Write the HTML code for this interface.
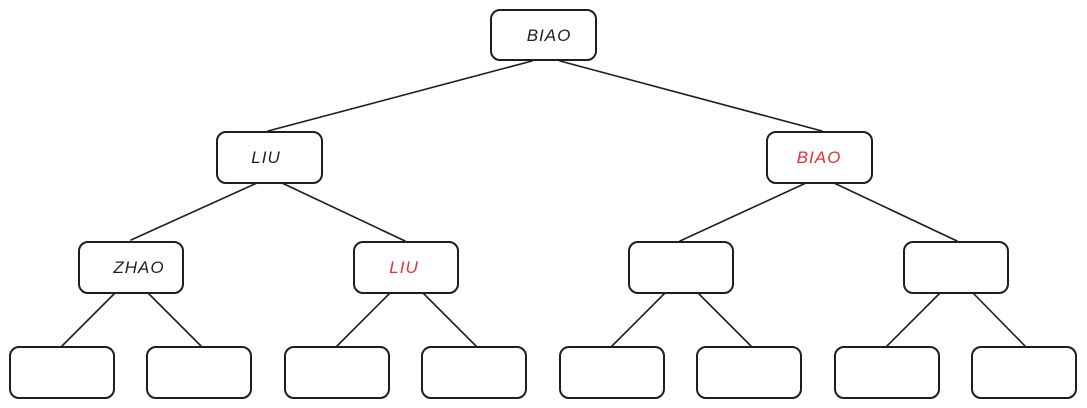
<!DOCTYPE html>
<html><head><meta charset="utf-8"><style>
html,body{margin:0;padding:0;background:#fff;}
svg{display:block}
text{font-family:"Liberation Sans",sans-serif;font-size:17px;font-style:italic;letter-spacing:1px}
</style></head><body>
<svg width="1087" height="408" viewBox="0 0 1087 408" xmlns="http://www.w3.org/2000/svg">
<g fill="none" stroke="#1e1e1e" stroke-width="1.6" stroke-linecap="round">
<line x1="532" y1="61" x2="268" y2="131"/>
<line x1="560" y1="61" x2="822" y2="131"/>
<line x1="257" y1="183" x2="131" y2="240"/>
<line x1="282" y1="183" x2="405" y2="241"/>
<line x1="806" y1="183" x2="680" y2="241"/>
<line x1="834" y1="183" x2="957" y2="241"/>
<line x1="115" y1="293" x2="62" y2="346"/>
<line x1="148" y1="293" x2="201" y2="346"/>
<line x1="390" y1="293" x2="337" y2="346"/>
<line x1="423" y1="293" x2="476" y2="346"/>
<line x1="665" y1="293" x2="612" y2="346"/>
<line x1="698" y1="293" x2="751" y2="346"/>
<line x1="940" y1="293" x2="887" y2="346"/>
<line x1="973" y1="293" x2="1025" y2="346"/>
</g>
<g fill="#fff" stroke="#1e1e1e" stroke-width="2">
<rect x="491" y="10" width="105" height="50" rx="9"/>
<rect x="217" y="132" width="105" height="51" rx="9"/>
<rect x="767" y="132" width="105" height="51" rx="9"/>
<rect x="79" y="242" width="104" height="51" rx="9"/>
<rect x="354" y="242" width="104" height="51" rx="9"/>
<rect x="629" y="242" width="104" height="51" rx="9"/>
<rect x="904" y="242" width="104" height="51" rx="9"/>
<rect x="10" y="347" width="104" height="51" rx="9"/>
<rect x="147" y="347" width="104" height="51" rx="9"/>
<rect x="285" y="347" width="104" height="51" rx="9"/>
<rect x="422" y="347" width="104" height="51" rx="9"/>
<rect x="560" y="347" width="104" height="51" rx="9"/>
<rect x="697" y="347" width="104" height="51" rx="9"/>
<rect x="835" y="347" width="104" height="51" rx="9"/>
<rect x="972" y="347" width="104" height="51" rx="9"/>
</g>
<g text-anchor="middle">
<text x="549" y="41" fill="#1e1e1e">BIAO</text>
<text x="266" y="163" fill="#1e1e1e">LIU</text>
<text x="819" y="163" fill="#e03131">BIAO</text>
<text x="139" y="273" fill="#1e1e1e">ZHAO</text>
<text x="404" y="273" fill="#e03131">LIU</text>
</g>
</svg>
</body></html>
